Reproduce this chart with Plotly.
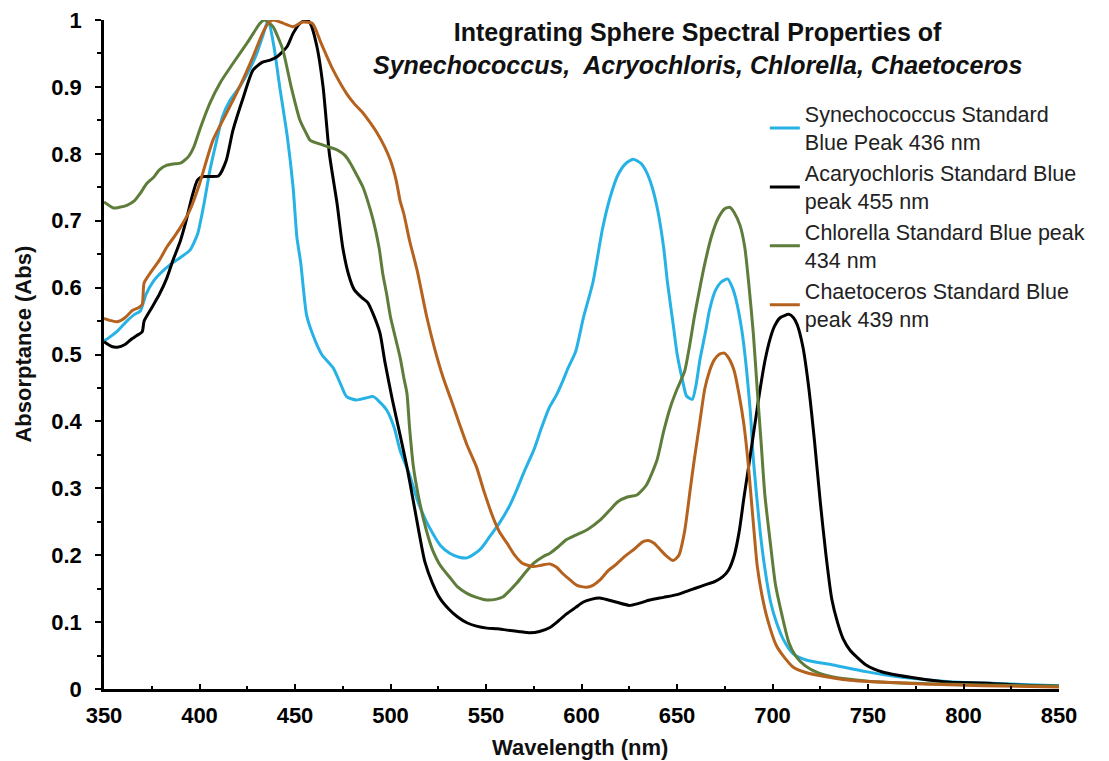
import plotly.graph_objects as go

# Synechococcus (cyan)
syn_wl = [350, 353, 357, 362, 366, 369, 372, 376, 379, 385, 390, 395, 399, 402, 405.5, 409, 412, 416, 421, 426, 430, 433, 436, 439, 442, 446, 449, 451, 453, 456, 459, 464, 470, 474, 477, 482, 487, 491, 494, 498, 502, 505, 510, 514, 518, 522, 526, 531, 536, 540, 544, 548, 552, 557, 562, 566, 570, 575, 579, 583, 587, 590, 593, 597, 601, 606, 611, 615, 619, 623, 627, 631, 634, 637, 640, 643, 645, 648, 650, 653, 655, 658, 660, 662, 665, 667, 670, 673, 676.5, 679, 681, 684, 686.5, 688.5, 690, 693.5, 696, 699, 702, 705.5, 710.7, 718, 731.7, 749, 766.7, 793, 820, 850]
syn_abs = [0.52, 0.526, 0.535, 0.55, 0.56, 0.565, 0.59, 0.61, 0.62, 0.635, 0.645, 0.656, 0.68, 0.72, 0.776, 0.82, 0.855, 0.88, 0.90, 0.925, 0.95, 0.975, 1.0, 0.96, 0.90, 0.825, 0.75, 0.675, 0.637, 0.56, 0.532, 0.50, 0.48, 0.455, 0.437, 0.432, 0.435, 0.437, 0.43, 0.417, 0.39, 0.357, 0.32, 0.283, 0.255, 0.233, 0.215, 0.203, 0.197, 0.196, 0.202, 0.212, 0.228, 0.248, 0.272, 0.297, 0.325, 0.357, 0.39, 0.42, 0.44, 0.459, 0.48, 0.505, 0.555, 0.608, 0.688, 0.735, 0.768, 0.785, 0.792, 0.786, 0.773, 0.75, 0.714, 0.66, 0.608, 0.545, 0.502, 0.46, 0.438, 0.433, 0.455, 0.492, 0.535, 0.566, 0.595, 0.608, 0.613, 0.6, 0.581, 0.535, 0.475, 0.41, 0.342, 0.236, 0.18, 0.13, 0.1, 0.075, 0.053, 0.043, 0.036, 0.026, 0.018, 0.011, 0.008, 0.005]

# Acaryochloris (black)
aca_wl = [350, 354, 357, 361, 364, 367, 370, 371, 375, 379, 383, 386, 390, 393, 396, 399, 402, 406, 410, 414, 417.5, 423, 428, 433, 437, 440.6, 445.8, 449, 452.6, 456, 458, 461.5, 464.7, 468, 472, 475, 478, 481, 485, 488, 491, 494.5, 497, 501, 505, 508.6, 512, 515, 518, 522, 526, 531, 535, 540, 545, 550.5, 556, 561, 567, 573, 578, 583.5, 588, 592, 597, 601, 605, 609.6, 614, 618, 625, 630, 635.7, 643, 650, 655, 660, 665, 670, 674, 677, 680, 682.6, 685, 688, 691, 693.5, 696, 698.7, 701, 704, 708.6, 711, 713, 716, 719, 722, 725, 728, 731, 734, 737, 740.6, 749, 758, 775.6, 793, 810, 828, 850]
aca_abs = [0.519, 0.512, 0.511, 0.515, 0.522, 0.528, 0.534, 0.55, 0.57, 0.59, 0.615, 0.64, 0.67, 0.70, 0.735, 0.761, 0.766, 0.766, 0.767, 0.79, 0.835, 0.885, 0.925, 0.937, 0.94, 0.945, 0.96, 0.98, 0.995, 1.0, 0.995, 0.96, 0.90, 0.80, 0.726, 0.66, 0.62, 0.597, 0.585, 0.578, 0.56, 0.532, 0.49, 0.432, 0.38, 0.332, 0.28, 0.233, 0.19, 0.158, 0.135, 0.118, 0.108, 0.099, 0.094, 0.091, 0.09, 0.088, 0.086, 0.084, 0.086, 0.092, 0.102, 0.112, 0.122, 0.13, 0.134, 0.136, 0.133, 0.13, 0.125, 0.128, 0.133, 0.137, 0.141, 0.146, 0.151, 0.156, 0.161, 0.168, 0.178, 0.2, 0.236, 0.285, 0.342, 0.4, 0.448, 0.49, 0.523, 0.542, 0.555, 0.56, 0.555, 0.544, 0.51, 0.45, 0.37, 0.28, 0.2, 0.135, 0.1, 0.075, 0.058, 0.036, 0.025, 0.016, 0.01, 0.009, 0.006, 0.004]

# Chlorella (olive green)
chl_wl = [350, 355, 358, 362, 366, 369, 372.5, 376, 379, 383, 387, 390, 394, 397, 400, 405.5, 411, 417.5, 425, 431.7, 434, 438.5, 441, 443.7, 448, 452.6, 456, 458, 464.7, 472, 476, 479, 482, 485.6, 488, 491, 494, 496, 498, 500, 503, 505, 507, 508.6, 510, 512, 514.5, 517, 520, 522, 526, 531, 535, 540, 545, 550.5, 555, 559, 562, 566, 570, 575, 580, 583.5, 588, 592, 597, 603, 610, 615, 619, 624, 629, 634, 639.5, 643, 646.6, 650, 654, 657, 659, 662, 664.5, 668, 671.6, 675, 677.7, 680, 683, 685.5, 687.5, 690, 692, 694, 696, 699, 701.5, 705, 708.5, 712, 717, 724, 731.7, 745, 758, 780, 810, 850]
chl_abs = [0.728, 0.719, 0.72, 0.723, 0.73, 0.741, 0.756, 0.765, 0.776, 0.783, 0.785, 0.786, 0.795, 0.81, 0.835, 0.876, 0.907, 0.935, 0.966, 0.995, 1.0, 0.99, 0.975, 0.955, 0.90, 0.85, 0.83, 0.82, 0.813, 0.806, 0.798, 0.786, 0.77, 0.75, 0.73, 0.70, 0.66, 0.62, 0.59, 0.556, 0.52, 0.496, 0.465, 0.442, 0.39, 0.332, 0.29, 0.257, 0.225, 0.208, 0.185, 0.167, 0.153, 0.143, 0.137, 0.133, 0.134, 0.138, 0.146, 0.158, 0.172, 0.188, 0.198, 0.203, 0.213, 0.223, 0.23, 0.238, 0.253, 0.268, 0.28, 0.287, 0.29, 0.305, 0.342, 0.385, 0.422, 0.448, 0.475, 0.52, 0.555, 0.6, 0.635, 0.676, 0.704, 0.718, 0.72, 0.712, 0.693, 0.66, 0.608, 0.53, 0.448, 0.37, 0.29, 0.215, 0.157, 0.11, 0.07, 0.05, 0.035, 0.024, 0.018, 0.013, 0.01, 0.008, 0.006, 0.004]

# Chaetoceros (brown)
cha_wl = [350, 353, 357, 361, 365, 368, 370, 371, 375, 379, 383, 387, 390, 395, 400, 407, 414, 421, 428, 433, 436, 438.5, 444, 449, 454, 459, 461, 463, 466, 470, 477, 481, 485.6, 489, 493, 497, 500, 503, 505, 507, 510, 514, 519, 523, 527.5, 532, 536, 540, 545, 549, 553.6, 557, 561, 565, 569, 574.6, 579, 583.5, 587, 590, 594, 597.6, 602.6, 606, 609.7, 614, 618, 623, 628, 632, 635, 638, 641, 644, 648, 651, 654, 657, 659, 662, 664.5, 667, 669.5, 672, 674.7, 677, 680, 682.5, 685, 687, 688.7, 690.5, 692, 694.5, 697.5, 702, 706, 710.7, 717, 723, 740.6, 775, 810, 850]
cha_abs = [0.554, 0.551, 0.549, 0.555, 0.566, 0.57, 0.575, 0.607, 0.625, 0.641, 0.661, 0.677, 0.69, 0.716, 0.755, 0.82, 0.86, 0.9, 0.945, 0.98, 0.995, 1.0, 0.995, 0.99, 0.997, 0.995, 0.985, 0.97, 0.95, 0.925, 0.89, 0.875, 0.861, 0.848, 0.831, 0.81, 0.79, 0.76, 0.73, 0.71, 0.67, 0.625, 0.556, 0.51, 0.466, 0.43, 0.397, 0.365, 0.332, 0.295, 0.257, 0.235, 0.218, 0.2, 0.188, 0.183, 0.185, 0.187, 0.182, 0.173, 0.163, 0.155, 0.152, 0.155, 0.163, 0.177, 0.186, 0.199, 0.21, 0.22, 0.222, 0.218, 0.209, 0.2, 0.192, 0.2, 0.236, 0.3, 0.342, 0.4, 0.448, 0.475, 0.492, 0.5, 0.502, 0.495, 0.475, 0.44, 0.396, 0.345, 0.29, 0.23, 0.184, 0.14, 0.103, 0.065, 0.048, 0.033, 0.025, 0.021, 0.013, 0.008, 0.005, 0.003]

names = [
    "Synechococcus Standard<br>Blue Peak 436 nm",
    "Acaryochloris Standard Blue<br>peak 455 nm",
    "Chlorella Standard Blue peak<br>434 nm",
    "Chaetoceros Standard Blue<br>peak 439 nm",
]
colors = ["#27B2E6", "#000000", "#5E7D3B", "#B5621F"]

x_ticks = [350, 400, 450, 500, 550, 600, 650, 700, 750, 800, 850]
y_ticks = [0, 0.1, 0.2, 0.3, 0.4, 0.5, 0.6, 0.7, 0.8, 0.9, 1]
y_labels = ["0", "0.1", "0.2", "0.3", "0.4", "0.5", "0.6", "0.7", "0.8", "0.9", "1"]

title_text = ("<b>Integrating Sphere Spectral Properties of</b><br>"
              "<b><i>Synechococcus,  Acryochloris, Chlorella, Chaetoceros</i></b>")
x_title = "<b>Wavelength (nm)</b>"
y_title = "<b>Absorptance (Abs)</b>"

fig = go.Figure()
series = [(syn_wl, syn_abs), (aca_wl, aca_abs), (chl_wl, chl_abs), (cha_wl, cha_abs)]
for (wl, ab), nm, col in zip(series, names, colors):
    fig.add_trace(go.Scatter(x=wl, y=ab, mode="lines", name=nm,
                             line=dict(color=col, width=3, shape="spline", smoothing=0.6)))

font_family = "Liberation Sans, Arial, sans-serif"
fig.update_layout(
    width=1101, height=753,
    margin=dict(l=96, r=50, t=12, b=72, autoexpand=False),
    plot_bgcolor="white", paper_bgcolor="white",
    font=dict(family=font_family, color="#000"),
    showlegend=True,
    legend=dict(x=0.692, y=0.89, xanchor="left", yanchor="top",
                font=dict(size=21.5, color="#222", family=font_family), itemwidth=30,
                bgcolor="rgba(0,0,0,0)", tracegroupgap=0),
    xaxis=dict(range=[350, 850], tickvals=x_ticks, ticktext=[str(v) for v in x_ticks],
               showgrid=False, zeroline=False, showline=True, linecolor="black", linewidth=2.5,
               ticks="inside", ticklen=5, tickwidth=2, tickcolor="black", ticklabelstandoff=5,
               minor=dict(dtick=25, tick0=350, ticks="inside", ticklen=3, tickwidth=2, tickcolor="black"),
               tickfont=dict(size=22, family=font_family, weight="bold")),
    yaxis=dict(range=[0, 1], tickvals=y_ticks, ticktext=y_labels, ticklabeloverflow="allow",
               showgrid=False, zeroline=False, showline=True, linecolor="black", linewidth=2.5,
               ticks="outside", ticklen=6, tickwidth=2, tickcolor="black", ticklabelstandoff=9,
               minor=dict(dtick=0.05, tick0=0, ticks="outside", ticklen=4, tickwidth=2, tickcolor="black"),
               tickfont=dict(size=22, family=font_family, weight="bold")),
    annotations=[
        dict(x=0.621, y=0.958, xref="paper", yref="paper", xanchor="center", yanchor="middle",
             text=title_text, showarrow=False, font=dict(size=25, color="#111")),
        dict(x=0.498, y=-0.088, xref="paper", yref="paper", xanchor="center", yanchor="middle",
             text=x_title, showarrow=False, font=dict(size=22, color="#111")),
        dict(x=-0.084, y=0.516, xref="paper", yref="paper", xanchor="center", yanchor="middle",
             text=y_title, showarrow=False, textangle=-90, font=dict(size=22, color="#111")),
    ],
)

fig.write_html("out.html")
